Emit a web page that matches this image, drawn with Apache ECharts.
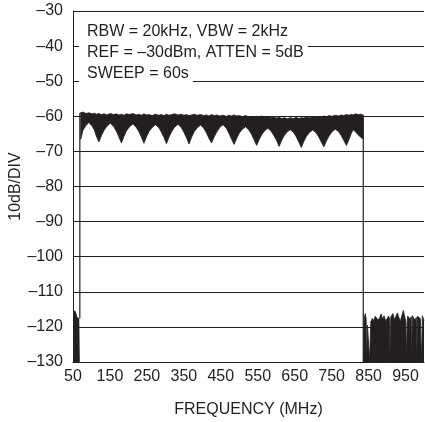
<!DOCTYPE html>
<html>
<head>
<meta charset="utf-8">
<script src="https://cdn.jsdelivr.net/npm/echarts@6/dist/echarts.min.js"></script>
<style>html,body{margin:0;padding:0;background:#fff}#c{width:425px;height:422px}</style>
</head>
<body>
<div id="c"></div>
<script>
// ---- data ----
const yTicks = [-130, -120, -110, -100, -90, -80, -70, -60, -50, -40, -30];
const xTickLabels = [50, 150, 250, 350, 450, 550, 650, 750, 850, 950];
const infoLines = ['RBW = 20kHz, VBW = 2kHz', 'REF = \u201330dBm, ATTEN = 5dB', 'SWEEP = 60s'];

// low-frequency floor (50–68 MHz)
const floorFreq  = [50, 53, 56, 60, 61, 64, 67, 68.5];
const floorLevel = [-115.3, -115.0, -115.6, -115.4, -117.4, -117.0, -117.6, -117.5];

// rise of the trace onto the band
const riseFreq  = [68.5, 68.5, 71];
const riseLevel = [-117.5, -59.2, -59.0];

// passband: upper and lower envelope of the trace
const bandFreq = [71,77,85,93,102,108,113,120,127,134,142,151,160,167,174,181,188,195,203,212,221,228,235,242,249,256,264,273,282,289,296,303,310,317,325,334,343,350,357,364,371,378,386,395,404,411,418,425,432,439,447,456,465,472,479,486,493,500,508,517,526,533,540,547,554,561,569,577,586,593,601,608,615,622,630,638,647,654,661,668,675,682,690,699,708,715,722,729,736,743,751,760,769,776,783,790,797,803,808,815,822,829,835];
const bandBottom = [-66.5,-64.0,-62.6,-61.8,-62.8,-64.0,-65.6,-67.3,-65.5,-64.0,-62.8,-62.0,-62.9,-64.2,-65.8,-67.6,-65.7,-64.1,-63.0,-62.2,-63.1,-64.3,-65.9,-67.7,-65.8,-64.3,-63.2,-62.4,-63.2,-64.5,-66.0,-67.8,-65.9,-64.4,-63.1,-62.3,-63.2,-64.5,-66.1,-67.9,-66.0,-64.4,-63.3,-62.5,-63.4,-64.7,-66.3,-67.6,-65.9,-64.5,-63.2,-62.4,-63.4,-64.8,-66.5,-68.0,-66.3,-64.8,-63.7,-63.0,-63.9,-65.1,-66.7,-68.3,-66.6,-65.2,-64.1,-63.4,-64.2,-65.4,-66.9,-68.6,-66.8,-65.5,-64.4,-63.8,-64.6,-65.8,-67.3,-68.9,-67.1,-65.7,-64.6,-63.9,-64.7,-65.9,-67.3,-68.7,-67.0,-65.6,-64.4,-63.7,-64.4,-65.5,-66.9,-68.3,-66.6,-65.0,-63.8,-64.5,-65.3,-66.0,-66.5];
const bandTop = [-59.0,-58.8,-59.2,-59.0,-59.3,-59.1,-59.4,-59.2,-59.5,-59.3,-59.6,-59.2,-59.5,-59.3,-59.6,-59.4,-59.7,-59.3,-59.5,-59.2,-59.6,-59.4,-59.7,-59.3,-59.6,-59.5,-59.8,-59.4,-59.7,-59.5,-59.8,-59.4,-59.7,-59.5,-59.3,-59.6,-59.4,-59.7,-59.5,-59.8,-59.6,-59.4,-59.7,-59.5,-59.8,-59.6,-59.9,-59.5,-59.8,-59.6,-59.9,-59.7,-60.0,-59.7,-59.9,-59.6,-59.9,-59.8,-60.1,-59.8,-60.2,-60.0,-60.3,-60.0,-60.2,-59.9,-60.3,-60.1,-60.4,-60.2,-60.5,-60.3,-60.6,-60.4,-60.7,-60.4,-60.6,-60.3,-60.6,-60.4,-60.5,-60.2,-60.4,-60.1,-60.3,-60.0,-60.2,-59.9,-60.1,-59.8,-60.0,-59.7,-59.9,-59.6,-59.8,-59.5,-59.7,-59.4,-59.6,-59.3,-59.5,-59.4,-59.6];

// drop at the top band edge
const dropFreq  = [835.6, 835.6];
const dropLevel = [-59.8, -130];

// noise floor above the band (836–1000 MHz)
const noiseFreq  = [836, 838, 841, 843.5, 844.5, 845.5, 847, 850, 852, 852.8, 853.8, 856, 860, 864, 868, 872, 876, 880, 884, 888, 892, 896, 900, 904, 906.5, 907.4, 908.4, 910, 912, 916, 920, 924, 928, 932, 936, 940, 944, 948, 951, 952.8, 953.7, 954.6, 956, 958, 962, 965.5, 966.4, 967.3, 968.5, 970, 975, 979.5, 980.4, 981.3, 982.5, 985, 990, 992.5, 993.4, 994.3, 995.5, 998, 1000];
const noiseLevel = [-130, -117.5, -116.2, -117.8, -129.5, -129.5, -119.5, -120.0, -119.0, -129.5, -129.5, -118.5, -117.6, -118.2, -117.0, -116.5, -118.0, -117.4, -116.3, -117.8, -116.8, -118.3, -117.7, -116.9, -117.6, -129.5, -129.5, -117.2, -117.5, -116.2, -117.9, -117.0, -116.0, -117.3, -118.4, -116.8, -115.3, -117.2, -118.6, -129.5, -129.5, -118.0, -116.9, -116.5, -117.8, -117.1, -129.5, -129.5, -116.8, -116.4, -118.0, -117.3, -129.5, -129.5, -117.0, -116.9, -117.6, -117.1, -129.5, -129.5, -116.8, -117.0, -118.2];

// ---- build chart ----
const INK = '#231f20';
const FONT = "'Liberation Sans', Arial, sans-serif";
const zip = (xs, ys) => xs.map((x, i) => [x, ys[i]]);
const fmt = v => (v < 0 ? '\u2013' + Math.abs(v) : String(v));

const lineBase = {
  type: 'line', symbol: 'none', showSymbol: false, silent: true,
  animation: false, clip: true
};

// the passband is drawn as one polygon between its upper and lower envelopes
function renderBand(params, api) {
  if (params.dataIndexInside !== 0) return null;
  const n = params.dataInsideLength;
  const pts = [];
  for (let j = 0; j < n; j++) pts.push(api.coord([api.value(0, j), api.value(1, j)]));
  for (let j = n - 1; j >= 0; j--) pts.push(api.coord([api.value(0, j), api.value(2, j)]));
  return {
    type: 'polygon',
    shape: { points: pts },
    style: { fill: INK, stroke: INK, lineWidth: 0.8 }
  };
}

const chart = echarts.init(document.getElementById('c'), null, { renderer: 'canvas' });
chart.setOption({
  backgroundColor: '#fff',
  animation: false,
  title: infoLines.map((t, i) => ({
    text: t,
    left: 79,
    top: [21, 42, 63][i],
    padding: [2, 4, 2, 8],
    backgroundColor: '#fff',
    textStyle: { fontFamily: FONT, fontSize: 16, fontWeight: 'normal', color: INK, lineHeight: 18 }
  })),
  grid: { left: 73, right: 1, top: 11, bottom: 60, containLabel: false, outerBoundsMode: 'none' },
  xAxis: {
    type: 'value', min: 50, max: 1000,
    name: 'FREQUENCY (MHz)', nameLocation: 'middle', nameGap: 40,
    nameTextStyle: { fontFamily: FONT, fontSize: 16, color: INK },
    axisLine: { show: true, onZero: false, lineStyle: { color: INK, width: 1 } },
    axisTick: { show: false },
    splitLine: { show: false },
    axisLabel: { customValues: xTickLabels, fontFamily: FONT, fontSize: 16, color: INK, margin: 7, formatter: fmt, hideOverlap: false }
  },
  yAxis: {
    type: 'value', min: yTicks[0], max: yTicks[yTicks.length - 1], interval: 10,
    name: '10dB/DIV', nameLocation: 'middle', nameGap: 49, nameMoveOverlap: false,
    nameTextStyle: { fontFamily: FONT, fontSize: 16, color: INK },
    axisLine: { show: true, lineStyle: { color: INK, width: 1 } },
    axisTick: { show: false },
    splitLine: { show: true, lineStyle: { color: INK, width: 1 } },
    axisLabel: { customValues: yTicks, fontFamily: FONT, fontSize: 16, color: INK, margin: 10, padding: [6, 0, 0, 0], formatter: fmt, hideOverlap: false }
  },
  series: [
    Object.assign({}, lineBase, {
      name: 'floor', data: zip(floorFreq, floorLevel),
      lineStyle: { color: INK, width: 1 },
      areaStyle: { color: INK, opacity: 1, origin: 'start' }
    }),
    Object.assign({}, lineBase, {
      name: 'rise', data: zip(riseFreq, riseLevel),
      lineStyle: { color: INK, width: 1.2 }
    }),
    {
      type: 'custom', name: 'band', silent: true, animation: false, clip: true,
      data: bandFreq.map((f, i) => [f, bandTop[i], bandBottom[i]]),
      encode: { x: 0, y: [1, 2] },
      renderItem: renderBand
    },
    Object.assign({}, lineBase, {
      name: 'drop', data: zip(dropFreq, dropLevel),
      lineStyle: { color: INK, width: 1.2 }
    }),
    Object.assign({}, lineBase, {
      name: 'noise', data: zip(noiseFreq, noiseLevel),
      lineStyle: { color: INK, width: 0.8 },
      areaStyle: { color: INK, opacity: 1, origin: 'start' }
    })
  ]
});
</script>
</body>
</html>
